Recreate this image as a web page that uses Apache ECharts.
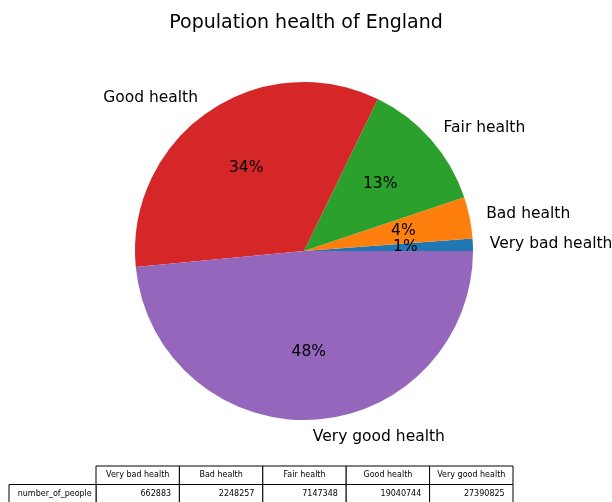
<!DOCTYPE html>
<html>
<head>
<meta charset="utf-8">
<script src="https://cdn.jsdelivr.net/npm/echarts@6/dist/echarts.min.js"></script>
<style>
  html, body { margin: 0; padding: 0; background: #fff; }
  #main { width: 612px; height: 502px; }
</style>
</head>
<body>
<div id="main"></div>
<script>
const categories = ['Very bad health', 'Bad health', 'Fair health', 'Good health', 'Very good health']
const numberOfPeople = [662883, 2248257, 7147348, 19040744, 27390825]
const sliceColors = ['#1f77b4', '#ff7f0e', '#2ca02c', '#d62728', '#9467bd']
const rowLabel = 'number_of_people'

const font = 'DejaVu Sans'
const R = 169
const total = numberOfPeople.reduce((a, b) => a + b, 0)

const pieData = categories.map((name, i) => ({
  name: name,
  value: numberOfPeople[i],
  itemStyle: { color: sliceColors[i] }
}))

// table under the pie, cells built from the arrays
function buildTable () {
  const els = []
  const x0 = 9
  const firstW = 87
  const colW = 83.4
  const y0 = 466
  const rowH = 18.5
  const fs = 8
  categories.forEach((c, i) => {
    const x = x0 + firstW + i * colW
    els.push({ type: 'rect', shape: { x: x, y: y0, width: colW, height: rowH }, style: { fill: '#fff', stroke: '#000', lineWidth: 1 } })
    els.push({ type: 'text', x: x + colW / 2, y: y0 + rowH / 2, style: { text: c, font: fs + 'px "' + font + '"', fill: '#000', align: 'center', verticalAlign: 'middle' } })
    els.push({ type: 'rect', shape: { x: x, y: y0 + rowH, width: colW, height: rowH }, style: { fill: '#fff', stroke: '#000', lineWidth: 1 } })
    els.push({ type: 'text', x: x + colW - colW * 0.1, y: y0 + rowH * 1.5, style: { text: String(numberOfPeople[i]), font: fs + 'px "' + font + '"', fill: '#000', align: 'right', verticalAlign: 'middle' } })
  })
  els.push({ type: 'rect', shape: { x: x0, y: y0 + rowH, width: firstW, height: rowH }, style: { fill: '#fff', stroke: '#000', lineWidth: 1 } })
  els.push({ type: 'text', x: x0 + firstW * 0.1, y: y0 + rowH * 1.5, style: { text: rowLabel, font: fs + 'px "' + font + '"', fill: '#000', align: 'left', verticalAlign: 'middle' } })
  return els
}

const myChart = echarts.init(document.getElementById('main'))
const options = {
  animation: false,
  backgroundColor: '#fff',
  textStyle: { fontFamily: font },
  title: {
    text: 'Population health of England',
    left: 'center',
    top: 9,
    textStyle: { fontSize: 19, fontWeight: 'normal', color: '#000', fontFamily: font }
  },
  series: [
    {
      // visible pie, names outside at 1.1r
      type: 'pie',
      left: 0,
      top: 0,
      width: 612,
      height: 502,
      center: [304, 251],
      radius: [0, R],
      startAngle: 0,
      clockwise: false,
      avoidLabelOverlap: false,
      silent: true,
      data: pieData,
      label: {
        show: true,
        position: 'outside',
        fontSize: 15.5,
        color: '#000',
        fontFamily: font,
        width: 200,
        overflow: 'none',
        distanceToLabelLine: 0
      },
      labelLine: { show: false, length: R * 0.1, length2: 0 },
      emphasis: { disabled: true }
    },
    {
      // transparent copy only for the percent labels at 0.6r
      type: 'pie',
      left: 0,
      top: 0,
      width: 612,
      height: 502,
      center: [304, 251],
      radius: [R * 0.2 - 6, R],
      startAngle: 0,
      clockwise: false,
      avoidLabelOverlap: false,
      silent: true,
      data: pieData.map(d => ({ name: d.name, value: d.value, itemStyle: { color: 'rgba(0,0,0,0)' } })),
      label: {
        show: true,
        position: 'inside',
        fontSize: 15.5,
        color: '#000',
        fontFamily: font,
        formatter: p => Math.round(p.value / total * 100) + '%'
      },
      labelLine: { show: false },
      emphasis: { disabled: true }
    }
  ],
  graphic: buildTable()
}
myChart.setOption(options)
</script>
</body>
</html>
